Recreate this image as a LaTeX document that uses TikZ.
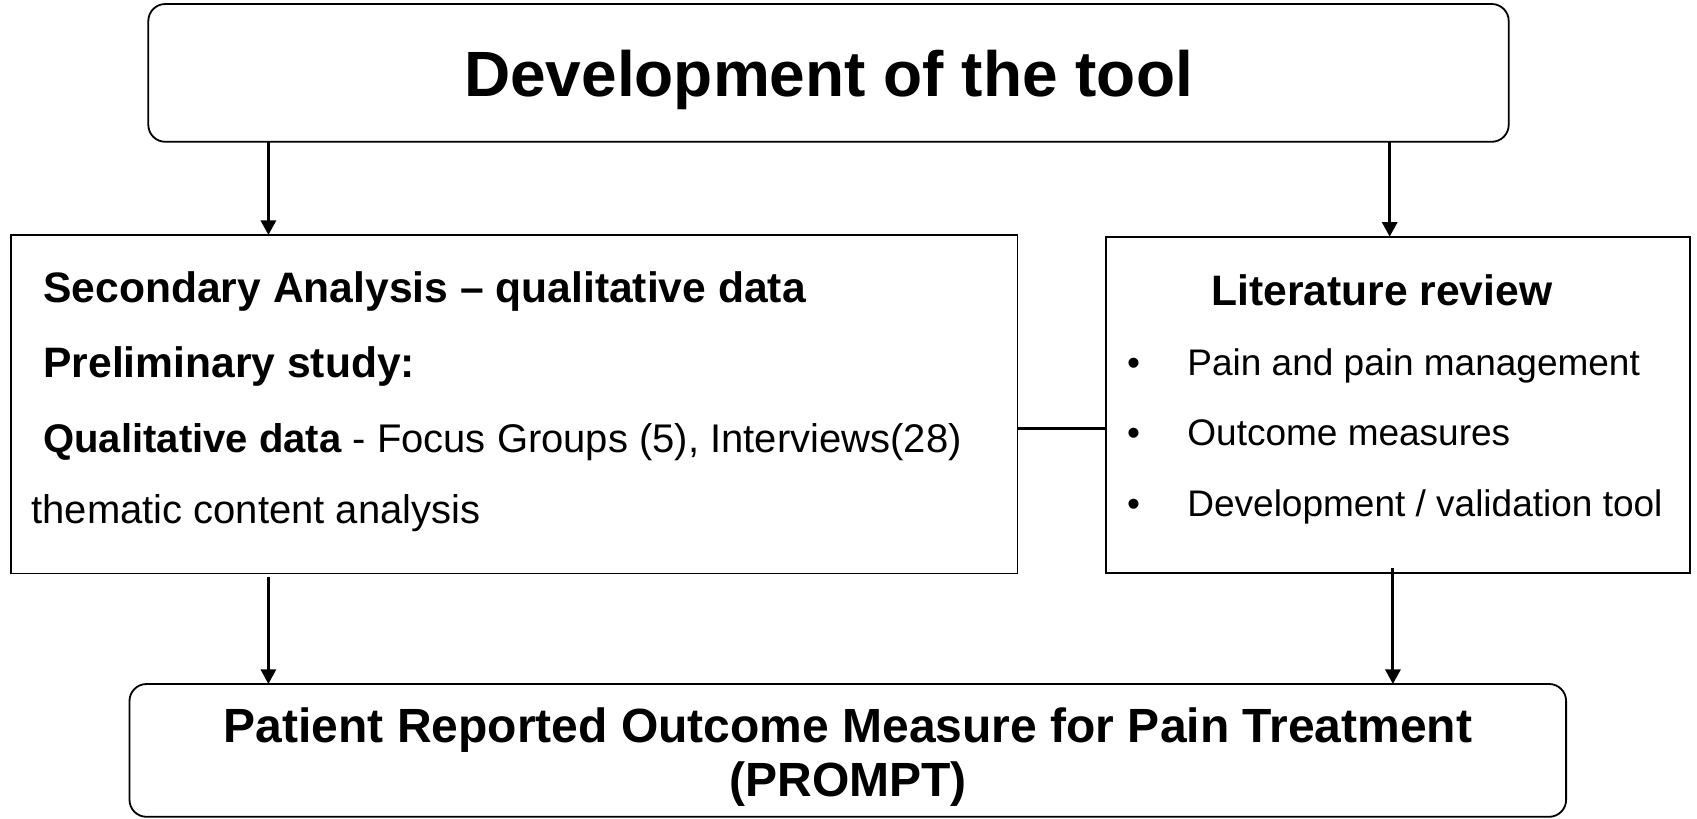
\documentclass[tikz,border=0pt]{standalone}
\usepackage{fontspec}
\setmainfont{Liberation Sans}
\usepackage{tikz}
\usetikzlibrary{arrows.meta, positioning, calc}

\begin{document}
\begin{tikzpicture}[
  x=0.5pt, y=-0.5pt,
  box/.style={rectangle, draw=black, line width=0.9pt, inner sep=0pt, outer sep=0pt},
  roundbox/.style={box, rounded corners=8.5pt},
  txt/.style={inner sep=0pt, anchor=base west},
  head/.style={txt, font=\fontsize{21.3pt}{25pt}\selectfont\bfseries},
  body/.style={txt, font=\fontsize{20pt}{24pt}\selectfont},
  item/.style={txt, font=\fontsize{18.5pt}{22pt}\selectfont},
  dot/.style={inner sep=0pt, anchor=base, font=\fontsize{18.5pt}{22pt}\selectfont},
  big/.style={inner sep=0pt, anchor=base, font=\fontsize{24pt}{28pt}\selectfont\bfseries},
  arr/.style={-{Triangle[length=7.3pt, width=7.5pt]}, line width=1.5pt},
  link/.style={line width=1.3pt},
]
  \useasboundingbox (0,0) rectangle (1697,819);

  % boxes
  \node[roundbox, minimum width=680.2pt, minimum height=68.9pt] (devbox) at (828.5,72.9) {};
  \node[box, minimum width=503.3pt, minimum height=169.2pt] (secbox) at (514.1,404.2) {};
  \node[box, minimum width=291.8pt, minimum height=168.3pt] (litbox) at (1397.8,405) {};
  \node[roundbox, minimum width=718.3pt, minimum height=66.4pt] (prombox) at (847.8,750.4) {};

  % title
  \node[inner sep=0pt, anchor=base, font=\fontsize{32pt}{38pt}\selectfont\bfseries] (devtxt) at (828.5,96.7) {Development of the tool};

  % secondary analysis
  \node[head] (sectxt) at (43,302.7) {Secondary Analysis -- qualitative data};
  \node[head] (pretxt) at (43,377.7) {Preliminary study:};
  \node[body] (qualtxt) at (43,452.7) {\textbf{Qualitative data} - Focus Groups (5), Interviews(28)};
  \node[body] (themtxt) at (31,523.3) {thematic content analysis};

  % literature review
  \node[head] (littxt) at (1211,305) {Literature review};
  \node[dot] (dot1) at (1133.5,375.7) {•};
  \node[item] (item1) at (1187,375.7) {Pain and pain management};
  \node[dot] (dot2) at (1133.5,445.7) {•};
  \node[item] (item2) at (1187,445.7) {Outcome measures};
  \node[dot] (dot3) at (1133.5,516.7) {•};
  \node[item] (item3) at (1187,516.7) {Development / validation tool};

  % result
  \node[big] (promA) at (848,742.3) {Patient Reported Outcome Measure for Pain Treatment};
  \node[big] (promB) at (848,796.7) {(PROMPT)};

  % connectors
  \coordinate (lx) at (268.4,0);
  \coordinate (rx) at (1389.7,0);
  \coordinate (rx2) at (1392.9,0);
  \coordinate (cy) at (0,428.6);
  \draw[arr] (devbox.south -| lx) -- (secbox.north -| lx);
  \draw[arr] (devbox.south -| rx) -- (litbox.north -| rx);
  \draw[arr] ([yshift=-1.7pt]secbox.south -| lx) -- (prombox.north -| lx);
  \draw[arr] ([yshift=2.5pt]litbox.south -| rx2) -- (prombox.north -| rx2);
  \draw[link] (secbox.east |- cy) -- (litbox.west |- cy);
\end{tikzpicture}
\end{document}
